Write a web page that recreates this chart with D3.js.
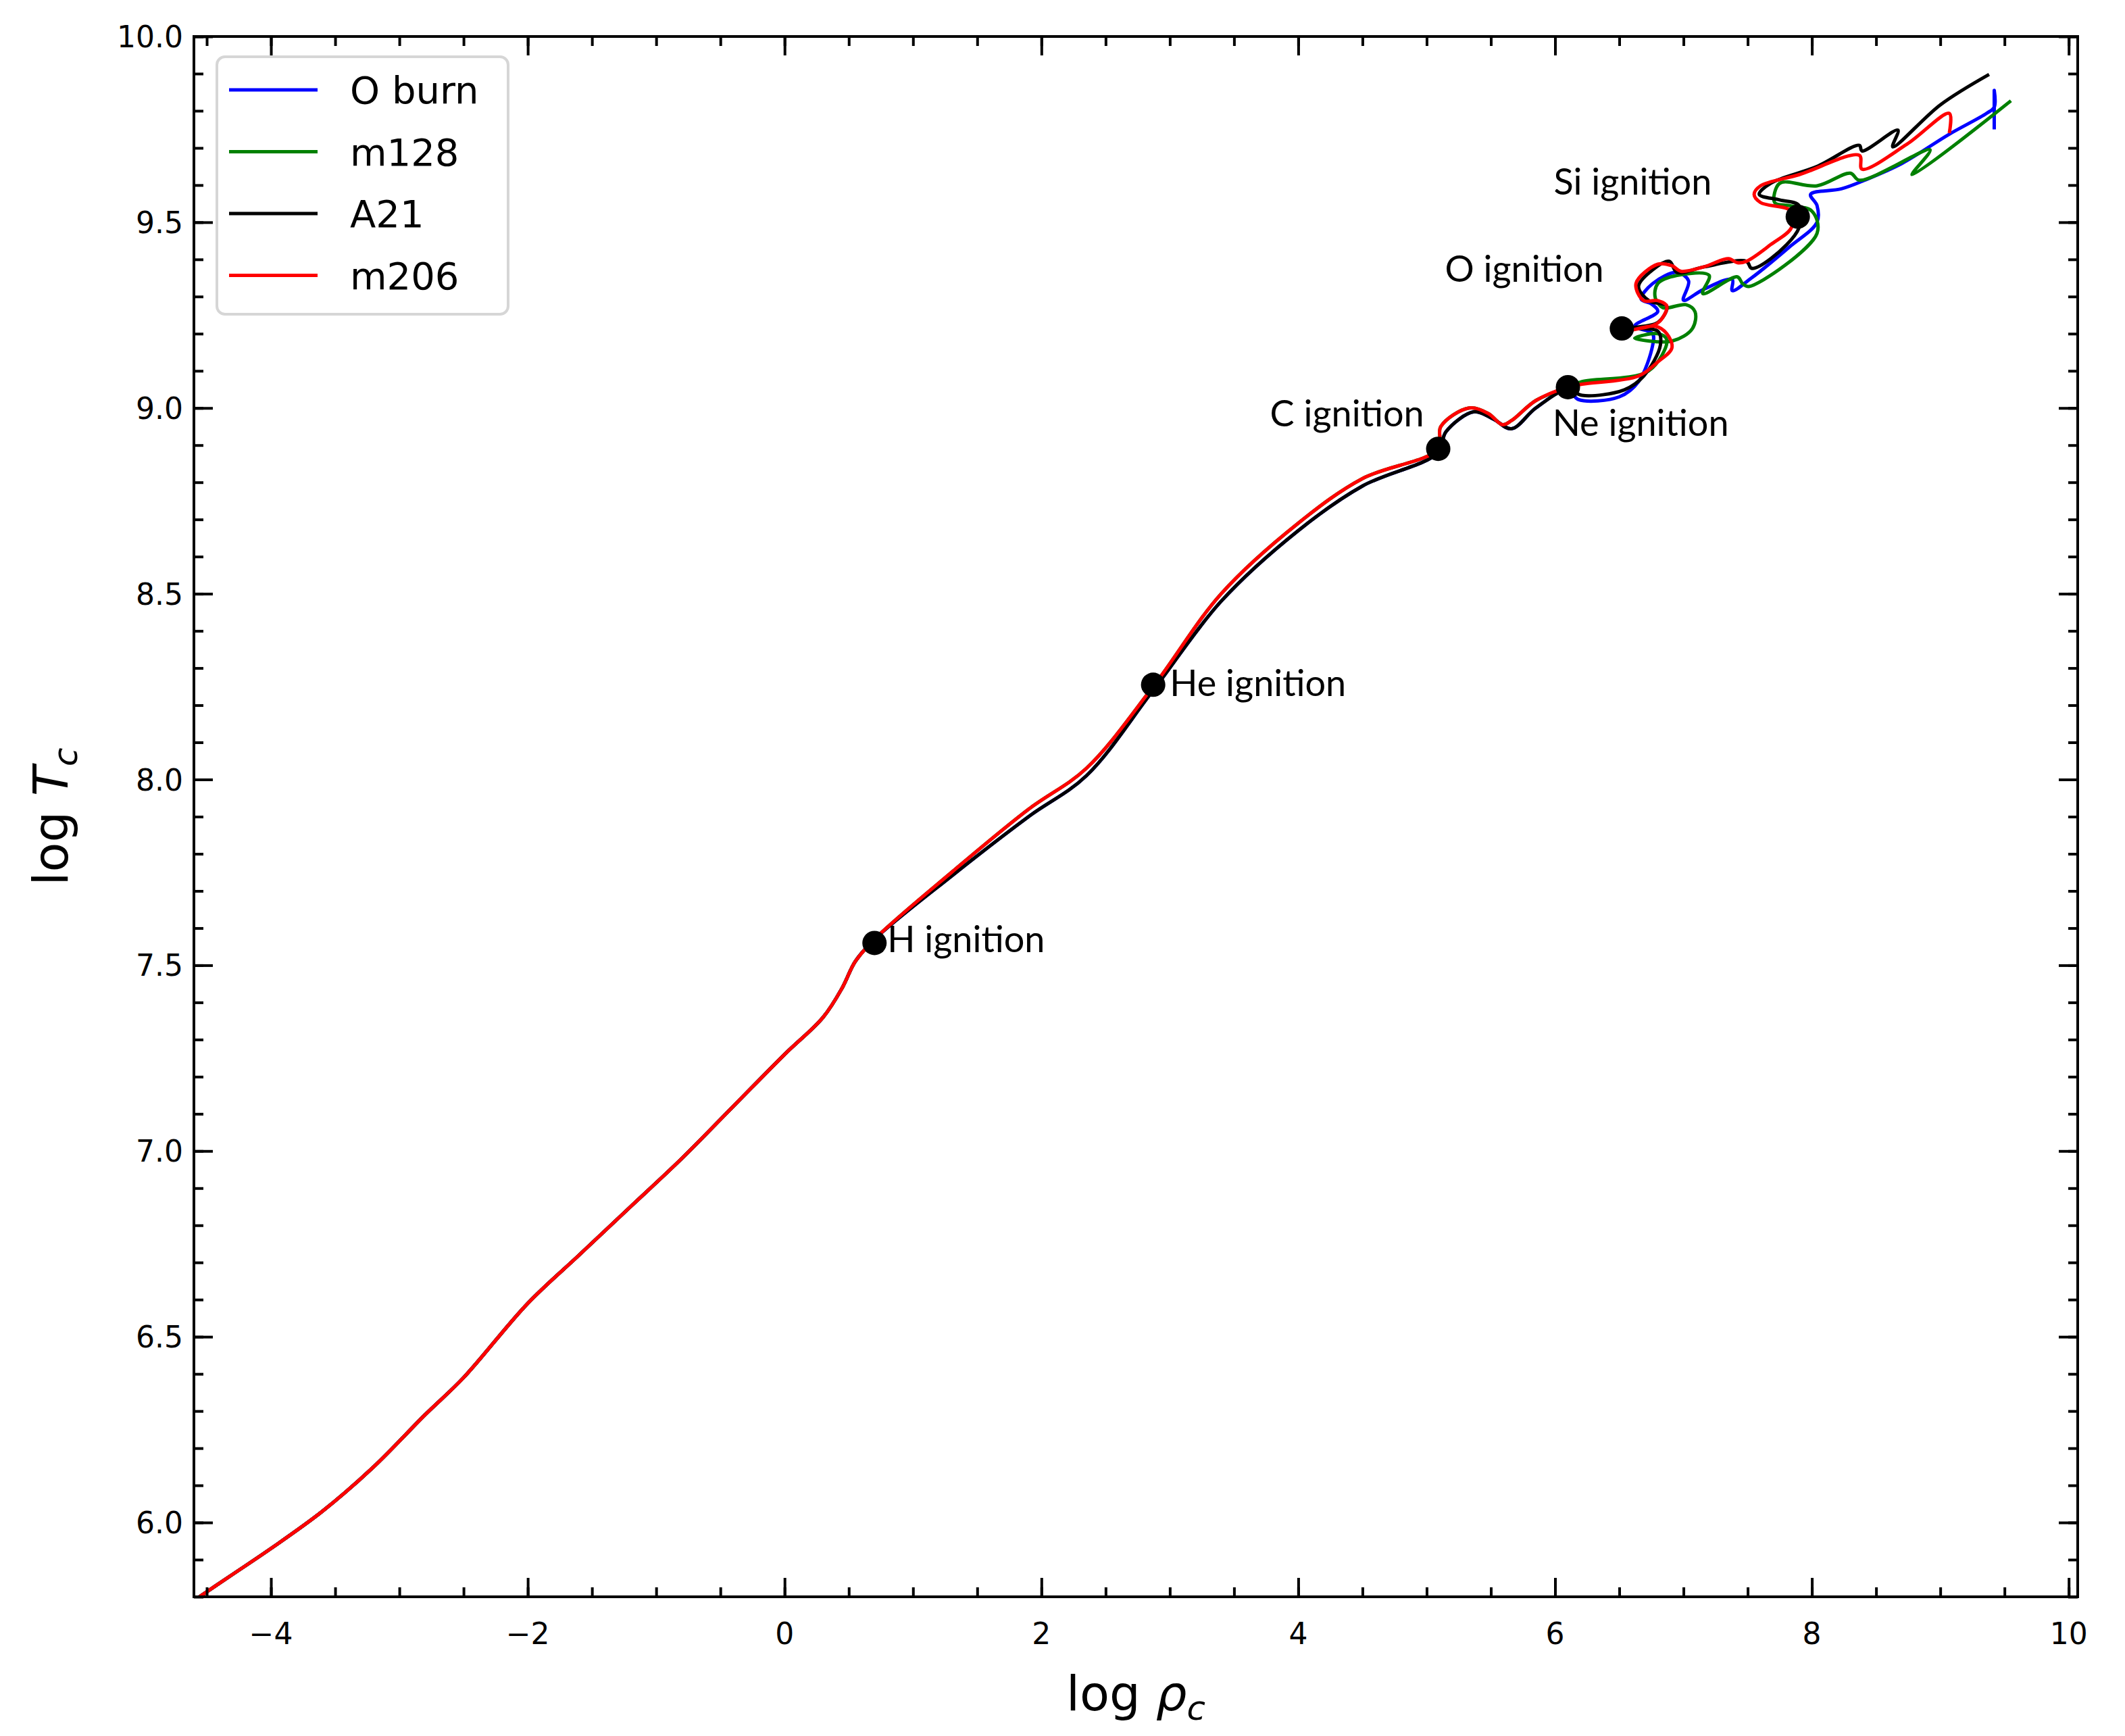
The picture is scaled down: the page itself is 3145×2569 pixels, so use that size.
<!DOCTYPE html>
<html>
<head>
<meta charset="utf-8">
<script src="https://cdn.jsdelivr.net/npm/d3@7"></script>
<style>
  body { margin: 0; background: #fff; }
  text { font-family: "DejaVu Sans", sans-serif; }
</style>
</head>
<body>
<svg id="chart" width="3145" height="2569"></svg>
<script>
// track shared by all models up to H ignition
var earlyTrack = [[-4.6,5.79],[-4.3,5.86],[-4.0,5.93],[-3.6,6.03],[-3.2,6.15],[-2.8,6.29],[-2.5,6.39],[-2.0,6.59],[-1.6,6.72],[-1.2,6.85],[-0.8,6.98],[-0.4,7.12],[0.0,7.26],[0.3,7.36],[0.45,7.44],[0.55,7.51],[0.7,7.57]]

// H ignition -> Ne ignition (red/green run a bit hotter than blue/black)
var midRed = [[0.7,7.57],[1.3,7.75],[1.9,7.92],[2.35,8.03],[2.87,8.25],[3.4,8.5],[4.0,8.69],[4.5,8.81],[5.09,8.89],[5.11,8.95],[5.33,9.0],[5.48,8.985],[5.59,8.955],[5.66,8.966],[5.85,9.02],[6.1,9.056]]
var midBlack = [[0.7,7.56],[1.3,7.74],[1.9,7.9],[2.35,8.01],[2.87,8.24],[3.4,8.48],[4.0,8.67],[4.5,8.79],[5.09,8.88],[5.15,8.936],[5.37,8.99],[5.52,8.97],[5.66,8.944],[5.85,9.0],[6.1,9.05]]

// after Ne ignition, per model
var lateBlue = [[6.1,9.05],[6.18,9.023],[6.5,9.03],[6.65,9.071],[6.76,9.169],[6.76,9.2],[6.62,9.22],[6.8,9.26],[6.75,9.28],[6.67,9.293],[6.76,9.335],[6.95,9.365],[7.04,9.342],[7.0,9.29],[7.16,9.32],[7.38,9.346],[7.38,9.316],[7.53,9.35],[7.82,9.432],[8.04,9.5],[8.04,9.545],[7.99,9.575],[8.23,9.59],[8.41,9.613],[8.7,9.658],[9.07,9.737],[9.36,9.793],[9.42,9.81],[9.42,9.855],[9.42,9.75]]
var lateGreen = [[6.1,9.06],[6.21,9.071],[6.73,9.1],[6.87,9.184],[6.8,9.2],[6.62,9.188],[6.91,9.18],[7.07,9.214],[7.09,9.259],[7.02,9.278],[6.84,9.27],[6.78,9.297],[6.8,9.335],[6.95,9.357],[7.2,9.357],[7.15,9.308],[7.42,9.353],[7.46,9.335],[7.51,9.327],[8.04,9.47],[8.0,9.53],[7.82,9.545],[7.71,9.553],[7.75,9.605],[8.04,9.598],[8.3,9.632],[8.37,9.613],[8.92,9.695],[8.78,9.628],[9.55,9.827]]
var lateBlack = [[6.1,9.05],[6.21,9.034],[6.54,9.049],[6.69,9.086],[6.82,9.169],[6.8,9.207],[6.6,9.215],[6.8,9.23],[6.87,9.274],[6.73,9.289],[6.65,9.327],[6.76,9.372],[6.89,9.395],[6.95,9.365],[7.16,9.38],[7.49,9.395],[7.53,9.376],[7.68,9.402],[7.9,9.485],[7.9,9.545],[7.75,9.56],[7.59,9.575],[7.68,9.605],[8.04,9.65],[8.37,9.707],[8.39,9.692],[8.67,9.748],[8.63,9.703],[9.0,9.816],[9.38,9.898]]
var lateRed = [[6.1,9.056],[6.21,9.064],[6.65,9.086],[6.8,9.124],[6.91,9.162],[6.87,9.2],[6.78,9.22],[6.6,9.21],[6.8,9.229],[6.87,9.274],[6.8,9.289],[6.69,9.289],[6.63,9.335],[6.8,9.387],[6.91,9.383],[6.98,9.368],[7.16,9.38],[7.35,9.402],[7.42,9.391],[7.49,9.395],[7.68,9.44],[7.84,9.485],[7.84,9.53],[7.6,9.553],[7.55,9.575],[7.6,9.598],[7.9,9.628],[8.37,9.68],[8.39,9.643],[8.74,9.71],[9.07,9.793],[9.07,9.74]]

var seriesNames = ['O burn', 'm128', 'A21', 'm206']
var seriesColors = ['#0000ff', '#008000', '#000000', '#ff0000']

var ignitions = [
  {name: 'H ignition',  x: 0.7,  y: 7.56,  lx: 0.8,  ly: 7.535, anchor: 'start'},
  {name: 'He ignition', x: 2.87, y: 8.255, lx: 3.0,  ly: 8.225, anchor: 'start'},
  {name: 'C ignition',  x: 5.09, y: 8.89,  lx: 4.98, ly: 8.95,  anchor: 'end'},
  {name: 'Ne ignition', x: 6.1,  y: 9.056, lx: 5.98, ly: 8.925, anchor: 'start'},
  {name: 'O ignition',  x: 6.52, y: 9.214, lx: 6.38, ly: 9.34,  anchor: 'end'},
  {name: 'Si ignition', x: 7.89, y: 9.515, lx: 7.22, ly: 9.575, anchor: 'end'}
]

var xTicks = [-4, -2, 0, 2, 4, 6, 8, 10]
var yTicks = [6.0, 6.5, 7.0, 7.5, 8.0, 8.5, 9.0, 9.5, 10.0]

var tracks = [
  earlyTrack.concat(midBlack.slice(1), lateBlue.slice(1)),
  earlyTrack.concat(midRed.slice(1), lateGreen.slice(1)),
  earlyTrack.concat(midBlack.slice(1), lateBlack.slice(1)),
  earlyTrack.concat(midRed.slice(1), lateRed.slice(1))
]

var L = 287, R = 3075, T = 54, B = 2363
var svg = d3.select('#chart')
var x = d3.scaleLinear().domain([-4.6, 10.07]).range([L, R])
var y = d3.scaleLinear().domain([5.8, 10.0]).range([B, T])

svg.append('defs').append('clipPath').attr('id', 'clip')
  .append('rect').attr('x', L).attr('y', T).attr('width', R - L).attr('height', B - T)

var line = d3.line().x(function (d) { return x(d[0]) }).y(function (d) { return y(d[1]) })
  .curve(d3.curveCatmullRom.alpha(0.5))

var g = svg.append('g').attr('clip-path', 'url(#clip)')
tracks.forEach(function (t, i) {
  g.append('path').attr('d', line(t)).attr('fill', 'none')
    .attr('stroke', seriesColors[i]).attr('stroke-width', 5).attr('stroke-linejoin', 'round')
})

// ignition dots + labels
svg.selectAll('.dot').data(ignitions).enter().append('circle')
  .attr('cx', function (d) { return x(d.x) }).attr('cy', function (d) { return y(d.y) })
  .attr('r', 18).attr('fill', '#000')
svg.selectAll('.lab').data(ignitions).enter().append('text')
  .attr('x', function (d) { return x(d.lx) }).attr('y', function (d) { return y(d.ly) })
  .attr('text-anchor', function (d) { return d.anchor })
  .style('font-family', 'Lato, sans-serif').style('font-size', '54px')
  .text(function (d) { return d.name })

// axes: ticks inward on all four sides
var xMinor = d3.range(-4.5, 10.01, 0.5), yMinor = d3.range(5.8, 10.001, 0.1)
function ticks (axis, scale, vals, size) {
  return axis(scale).tickValues(vals).tickSize(size).tickFormat('')
}
var axes = [
  [d3.axisBottom, x, 'translate(0,' + B + ')', 1],
  [d3.axisTop, x, 'translate(0,' + T + ')', 1],
  [d3.axisLeft, y, 'translate(' + L + ',0)', 0],
  [d3.axisRight, y, 'translate(' + R + ',0)', 0]
]
axes.forEach(function (a) {
  var major = a[3] ? xTicks : yTicks, minor = a[3] ? xMinor : yMinor
  var gm = svg.append('g').attr('transform', a[2]).call(ticks(a[0], a[1], minor, -14))
  var gM = svg.append('g').attr('transform', a[2]).call(ticks(a[0], a[1], major, -28))
  ;[gm, gM].forEach(function (gg) {
    gg.select('.domain').remove()
    gg.selectAll('line').attr('stroke', '#000').attr('stroke-width', 4)
  })
})
svg.append('rect').attr('x', L).attr('y', T).attr('width', R - L).attr('height', B - T)
  .attr('fill', 'none').attr('stroke', '#000').attr('stroke-width', 4)

// tick labels
svg.selectAll('.xl').data(xTicks).enter().append('text')
  .attr('x', function (d) { return x(d) }).attr('y', B + 70)
  .attr('text-anchor', 'middle').style('font-size', '44px')
  .text(function (d) { return d < 0 ? '\u2212' + Math.abs(d) : d })
svg.selectAll('.yl').data(yTicks).enter().append('text')
  .attr('x', L - 16).attr('y', function (d) { return y(d) + 16 })
  .attr('text-anchor', 'end').style('font-size', '44px')
  .text(function (d) { return d.toFixed(1) })

// axis titles
var xt = svg.append('text').attr('x', (L + R) / 2).attr('y', B + 168)
  .attr('text-anchor', 'middle').style('font-size', '72px')
xt.append('tspan').text('log ')
xt.append('tspan').style('font-style', 'italic').text('\u03c1')
xt.append('tspan').style('font-style', 'italic').style('font-size', '50px').attr('dy', 14).text('c')

var yt = svg.append('text').attr('transform', 'translate(' + 100 + ',' + ((T + B) / 2) + ') rotate(-90)')
  .attr('text-anchor', 'middle').style('font-size', '72px')
yt.append('tspan').text('log ')
yt.append('tspan').style('font-style', 'italic').text('T')
yt.append('tspan').style('font-style', 'italic').style('font-size', '50px').attr('dy', 14).text('c')

// legend
var lg = svg.append('g')
lg.append('rect').attr('x', 321).attr('y', 84).attr('width', 431).attr('height', 381).attr('rx', 12)
  .attr('fill', '#fff').attr('stroke', '#d6d6d6').attr('stroke-width', 4)
seriesNames.forEach(function (n, i) {
  var yy = 133 + i * 91.5
  lg.append('line').attr('x1', 339).attr('x2', 470).attr('y1', yy).attr('y2', yy)
    .attr('stroke', seriesColors[i]).attr('stroke-width', 5)
  lg.append('text').attr('x', 518).attr('y', yy + 20).style('font-size', '56px').text(n)
})
</script>
</body>
</html>
